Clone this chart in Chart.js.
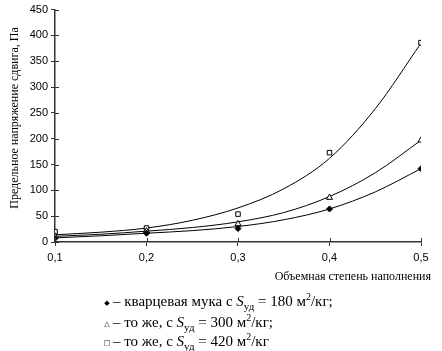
<!DOCTYPE html>
<html><head><meta charset="utf-8">
<script src="https://cdn.jsdelivr.net/npm/chart.js@4/dist/chart.umd.min.js"></script>
<style>
html,body{margin:0;padding:0;background:#fff;}
#wrap{position:relative;width:442px;height:351px;}
canvas{position:absolute;left:0;top:0;}
.leg{position:absolute;left:113px;font-family:"Liberation Serif","Times New Roman",serif;font-size:15px;color:#000;white-space:nowrap;line-height:15px;}
.leg sub{font-size:11px;vertical-align:-4px;line-height:0;}
.leg sup{font-size:10px;vertical-align:6px;line-height:0;}
.leg i{font-style:italic;}
.mk{position:absolute;left:102px;width:10px;text-align:center;font-family:"DejaVu Sans",sans-serif;font-size:7px;line-height:10px;color:#000;}
</style></head>
<body><div id="wrap"><canvas id="c" width="442" height="351"></canvas>
<div class="mk" style="top:298px">◆</div>
<div class="mk" style="top:319px">△</div>
<div class="mk" style="top:338px">□</div>
<div class="leg" style="top:294px">– кварцевая мука с <i>S</i><sub>уд</sub> = 180 м<sup>2</sup>/кг;</div>
<div class="leg" style="top:315px">– то же, с <i>S</i><sub>уд</sub> = 300 м<sup>2</sup>/кг;</div>
<div class="leg" style="top:334px">– то же, с <i>S</i><sub>уд</sub> = 420 м<sup>2</sup>/кг</div>
</div>
<script>
// measured points
const xPoints = [0.1, 0.2, 0.3, 0.4, 0.5];
const s180 = [7, 17, 26, 64, 142];
const s300 = [11, 21, 35, 86, 197];
const s420 = [20, 27, 54, 173, 386];
// trend curves
const xCurve = [0.1, 0.15, 0.2, 0.25, 0.3, 0.35, 0.4, 0.45, 0.5];
const c180 = [8, 12, 17, 22, 30, 43, 64, 97, 142];
const c300 = [11, 15, 21, 28, 39, 57, 88, 134, 197];
const c420 = [14, 19, 27, 42, 66, 103, 162, 258, 385];
const yTicks = [0, 50, 100, 150, 200, 250, 300, 350, 400, 450];
const yTitle = "Предельное напряжение сдвига, Па";
const xTitle = "Объемная степень наполнения";

const zip = (xs, ys) => xs.map((x, i) => ({x, y: ys[i]}));
const curve = d => ({type:'line', data: zip(xCurve, d), borderColor:'#000', borderWidth:1, pointRadius:0, cubicInterpolationMode:'monotone', fill:false, order:2});
const pts = (d, style, fill, r) => ({type:'scatter', data: zip(xPoints, d), showLine:false, pointStyle:style, pointRadius:r, backgroundColor:fill, borderColor:'#000', borderWidth:1, order:1});

const titles = {
  id:'titles',
  afterDraw(chart){
    const ctx = chart.ctx, a = chart.chartArea, xs = chart.scales.x, ys = chart.scales.y;
    ctx.save();
    ctx.strokeStyle = '#333'; ctx.lineWidth = 1;
    ctx.beginPath();
    yTicks.forEach(v => { const py = Math.round(ys.getPixelForValue(v)) + 0.5; ctx.moveTo(a.left, py); ctx.lineTo(a.left + 4, py); });
    xPoints.forEach(v => { const px = Math.round(xs.getPixelForValue(v)) + 0.5; ctx.moveTo(px, a.bottom); ctx.lineTo(px, a.bottom - 4); });
    ctx.stroke();
    ctx.fillStyle = '#000';
    ctx.font = '12px "Liberation Serif", serif';
    ctx.textAlign = 'right'; ctx.textBaseline = 'middle';
    ctx.fillText(xTitle, 431, 277);
    ctx.translate(15, 118); ctx.rotate(-Math.PI/2);
    ctx.textAlign = 'center';
    ctx.fillText(yTitle, 0, 0);
    ctx.restore();
  }
};

new Chart(document.getElementById('c'), {
  data: { datasets: [curve(c180), curve(c300), curve(c420), pts(s180,'rectRot','#000',3), pts(s300,'triangle','#fff',3.5), pts(s420,'rect','#fff',3.2)] },
  options: {
    responsive:false, animation:false, devicePixelRatio:1,
    layout:{padding:{top:9, right:21, left:0, bottom:0}},
    plugins:{legend:{display:false}, tooltip:{enabled:false}},
    scales:{
      x:{type:'linear', min:0.1, max:0.5,
         afterFit(s){ s.height = 109; },
         border:{color:'#333', width:1.5},
         grid:{drawOnChartArea:false, tickLength:4, color:'#333'},
         ticks:{stepSize:0.1, color:'#000', font:{family:'"Liberation Sans", Arial', size:11}, padding:5,
                callback:v => v.toFixed(1).replace('.', ',')}},
      y:{min:0, max:450,
         afterFit(s){ s.width = 55; },
         afterBuildTicks(s){ s.ticks = yTicks.map(v => ({value:v})); },
         border:{color:'#333', width:1.5},
         grid:{drawOnChartArea:false, tickLength:4, color:'#333'},
         ticks:{color:'#000', font:{family:'"Liberation Sans", Arial', size:11}, padding:3}}
    }
  },
  plugins:[titles]
});
</script></body></html>
